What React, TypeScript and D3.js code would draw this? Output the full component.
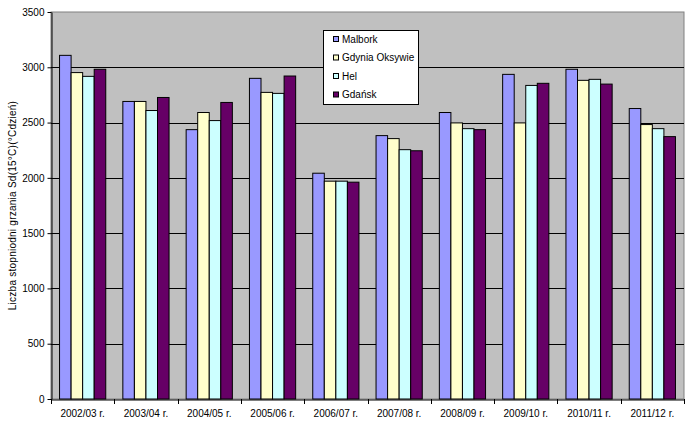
import React, { useEffect, useRef } from "react";
import * as d3 from "d3";

const seasons = [
  "2002/03 r.",
  "2003/04 r.",
  "2004/05 r.",
  "2005/06 r.",
  "2006/07 r.",
  "2007/08 r.",
  "2008/09 r.",
  "2009/10 r.",
  "2010/11 r.",
  "2011/12 r.",
];

const stations = ["Malbork", "Gdynia Oksywie", "Hel", "Gdańsk"];

const malbork = [3108, 2691, 2436, 2900, 2042, 2382, 2591, 2936, 2982, 2627];
const gdynia = [2952, 2691, 2591, 2773, 1970, 2355, 2497, 2497, 2882, 2482];
const hel = [2918, 2609, 2518, 2764, 1970, 2255, 2445, 2836, 2891, 2445];
const gdansk = [2982, 2727, 2682, 2921, 1961, 2245, 2436, 2855, 2848, 2373];

const yTicks = [0, 500, 1000, 1500, 2000, 2500, 3000, 3500];

const colors = ["#9999FF", "#FFFFCC", "#CCFFFF", "#660066"];

const W = 690;
const H = 426;
const m = { top: 12, right: 6, bottom: 27, left: 51 };

const App: React.FC = () => {
  const svgRef = useRef<SVGSVGElement | null>(null);

  useEffect(() => {
    if (!svgRef.current) return;
    const svg = d3.select(svgRef.current);
    svg.selectAll("*").remove();

    const series = [malbork, gdynia, hel, gdansk];
    const font = "Liberation Sans, Arial, sans-serif";

    const x = d3
      .scaleBand<string>()
      .domain(seasons)
      .range([m.left, W - m.right])
      .padding(0);

    const gap = x.bandwidth() * 0.27;
    const xi = d3
      .scaleBand<number>()
      .domain(d3.range(stations.length))
      .range([gap / 2, x.bandwidth() - gap / 2])
      .padding(0);

    const y = d3
      .scaleLinear()
      .domain([0, 3500])
      .range([H - m.bottom, m.top]);

    // plot area
    svg
      .append("rect")
      .attr("x", m.left)
      .attr("y", m.top)
      .attr("width", W - m.left - m.right)
      .attr("height", H - m.top - m.bottom)
      .attr("fill", "#C0C0C0")
      .attr("stroke", "#808080")
      .attr("stroke-width", 1);

    // gridlines
    svg
      .append("g")
      .selectAll("line")
      .data(yTicks.filter((t) => t > 0 && t < 3500))
      .join("line")
      .attr("x1", m.left)
      .attr("x2", W - m.right)
      .attr("y1", (d) => Math.round(y(d)) + 0.5)
      .attr("y2", (d) => Math.round(y(d)) + 0.5)
      .attr("stroke", "#000")
      .attr("stroke-width", 1);

    // bars
    svg
      .append("g")
      .selectAll("g")
      .data(seasons)
      .join("g")
      .attr("transform", (d) => `translate(${x(d)},0)`)
      .selectAll("rect")
      .data((_, i) => series.map((s, k) => ({ k, v: s[i] })))
      .join("rect")
      .attr("x", (d) => xi(d.k)!)
      .attr("y", (d) => y(d.v))
      .attr("width", xi.bandwidth())
      .attr("height", (d) => y(0) - y(d.v))
      .attr("fill", (d) => colors[d.k])
      .attr("stroke", "#000")
      .attr("stroke-width", 1);

    // y axis
    svg
      .append("g")
      .attr("transform", `translate(${m.left + 0.5},0)`)
      .call(
        d3
          .axisLeft(y)
          .tickValues(yTicks)
          .tickFormat(d3.format("d"))
          .tickSize(4)
          .tickSizeOuter(0)
          .tickPadding(3)
      )
      .call((g) => g.select(".domain").attr("stroke", "#000"))
      .call((g) =>
        g
          .selectAll(".tick text")
          .attr("font-family", font)
          .attr("font-size", 10)
          .attr("fill", "#000")
      );

    // x axis
    svg
      .append("g")
      .attr("transform", `translate(0,${y(0) + 0.5})`)
      .call(d3.axisBottom(x).tickSize(0).tickPadding(10))
      .call((g) => g.select(".domain").attr("stroke", "#000"))
      .call((g) =>
        g
          .selectAll(".tick text")
          .attr("font-family", font)
          .attr("font-size", 10)
          .attr("fill", "#000")
      );

    // category dividers on x axis
    svg
      .append("g")
      .selectAll("line")
      .data(d3.range(seasons.length + 1))
      .join("line")
      .attr("x1", (i) => Math.round(m.left + i * x.step()) + 0.5)
      .attr("x2", (i) => Math.round(m.left + i * x.step()) + 0.5)
      .attr("y1", y(0))
      .attr("y2", y(0) + 5)
      .attr("stroke", "#000");

    // y label
    svg
      .append("text")
      .attr("transform", `translate(16,${(m.top + H - m.bottom) / 2}) rotate(-90)`)
      .attr("text-anchor", "middle")
      .attr("font-family", font)
      .attr("font-size", 10)
      .attr("letter-spacing", 0.25)
      .attr("fill", "#000")
      .text("Liczba stopniodni grzania Sd(15°C)(°Cdzień)");

    // legend
    const lg = svg.append("g").attr("transform", "translate(323,30)");
    lg.append("rect")
      .attr("x", 0.5)
      .attr("y", 0.5)
      .attr("width", 95)
      .attr("height", 74)
      .attr("fill", "#fff")
      .attr("stroke", "#000");
    const item = lg
      .selectAll("g.item")
      .data(stations)
      .join("g")
      .attr("class", "item")
      .attr("transform", (_, i) => `translate(10,${9 + i * 18.5})`);
    item
      .append("rect")
      .attr("x", 0.5)
      .attr("y", -2.5)
      .attr("width", 5)
      .attr("height", 5)
      .attr("fill", (_, i) => colors[i])
      .attr("stroke", "#000");
    item
      .append("text")
      .attr("x", 9)
      .attr("y", 0)
      .attr("dy", "0.35em")
      .attr("font-family", font)
      .attr("font-size", 10)
      .attr("fill", "#000")
      .text((d) => d);
  }, []);

  return (
    <svg
      ref={svgRef}
      width={W}
      height={H}
      style={{ position: "absolute", left: 0, top: 0, background: "#fff" }}
    />
  );
};

export default App;
